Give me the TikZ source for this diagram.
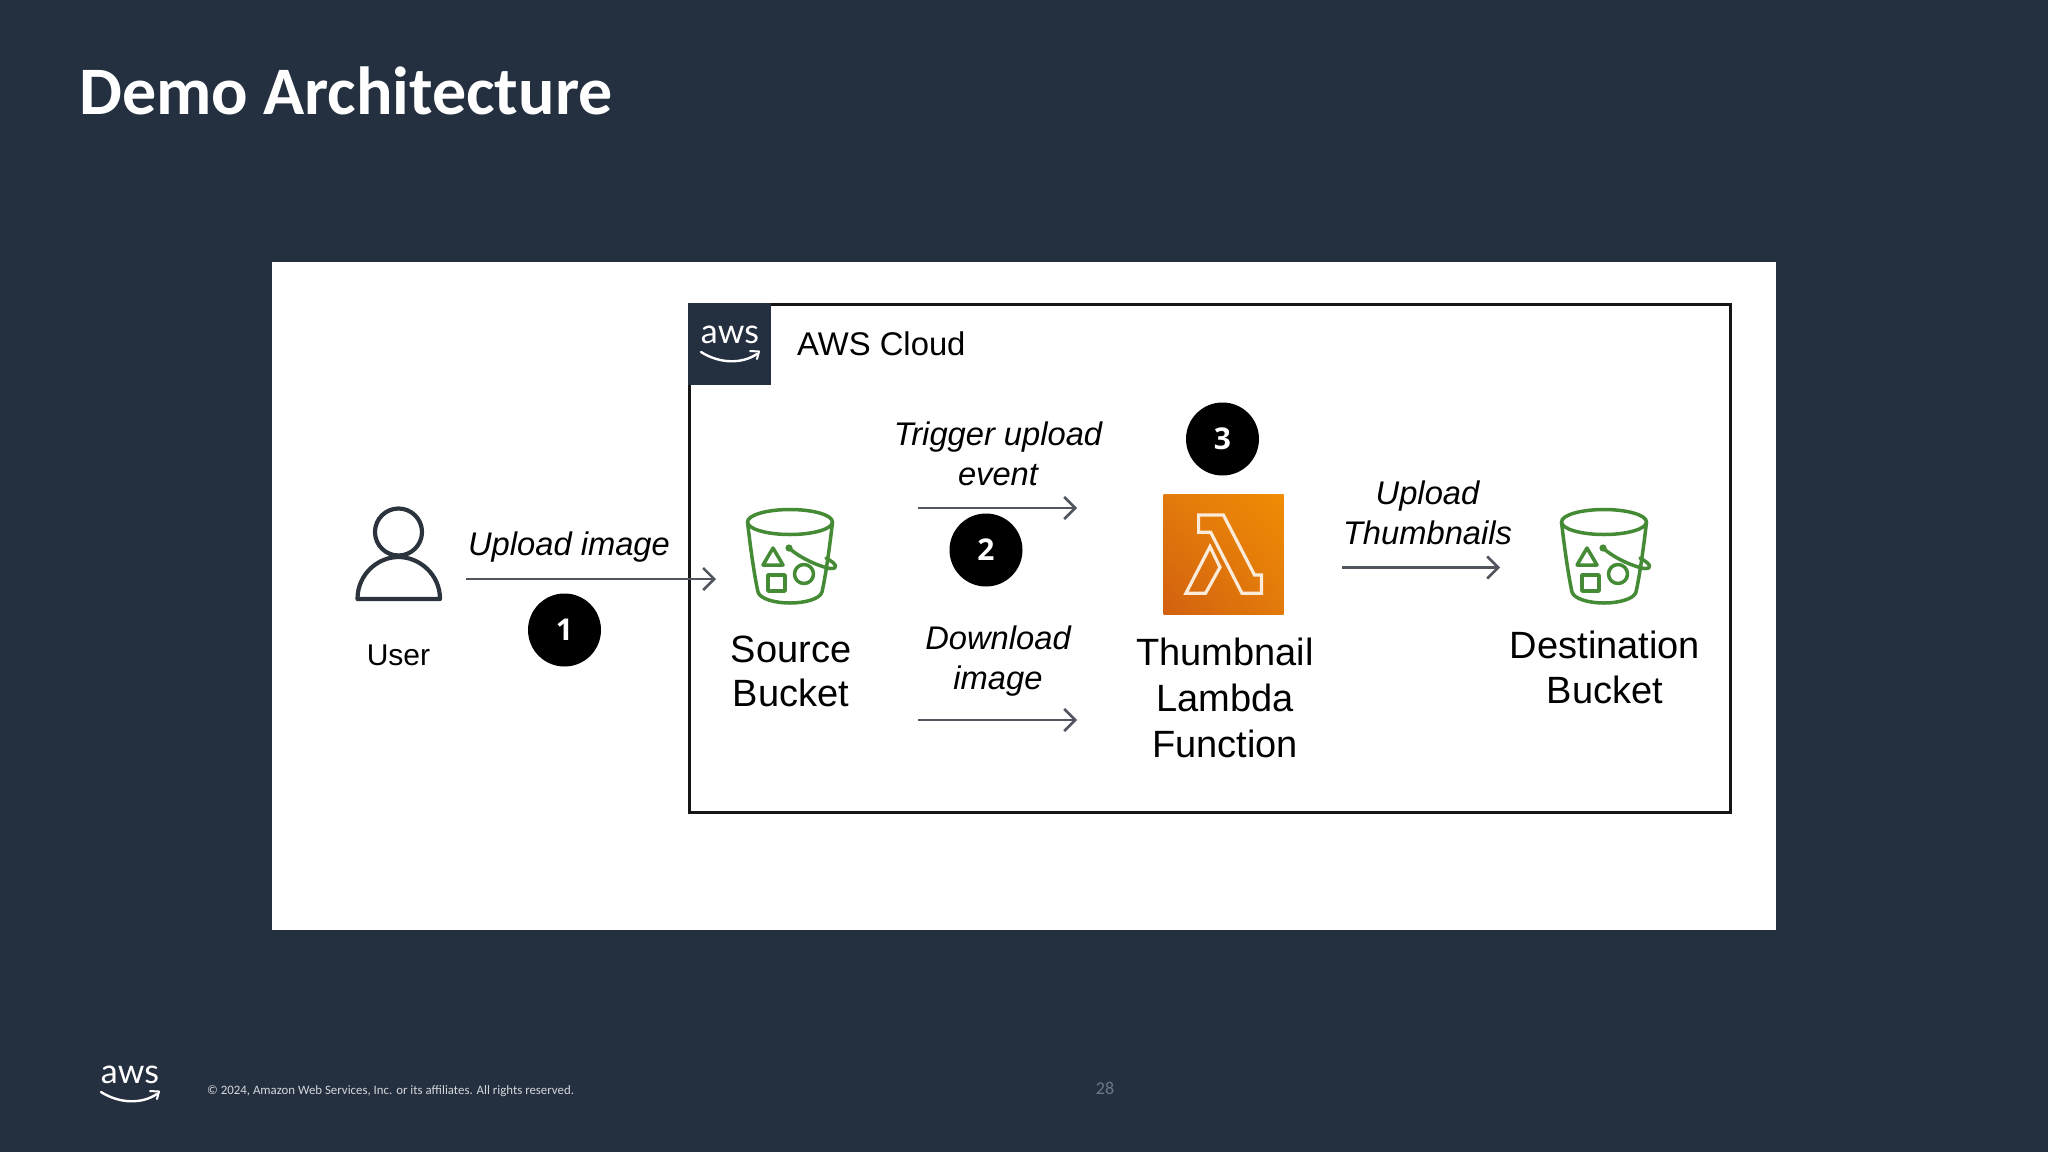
\documentclass[tikz,border=0pt]{standalone}
\usepackage{fontspec}
\setmainfont{Liberation Sans}
\newfontfamily\carlito{Carlito}
\newfontfamily\opensans{Open Sans}
\newfontfamily\logofont{Lato}
\usetikzlibrary{arrows.meta,shadings}
\definecolor{slate}{HTML}{242F3F}
\definecolor{bucketgreen}{HTML}{458B36}
\definecolor{arrowgray}{HTML}{50555E}
\definecolor{usercol}{HTML}{2B333D}
\definecolor{boxline}{HTML}{151515}
\definecolor{footgray}{HTML}{D5D8DC}
\definecolor{pagegray}{HTML}{6E7885}
\definecolor{lamlow}{HTML}{D2600F}
\definecolor{lammid}{HTML}{E27A0C}
\definecolor{lamhigh}{HTML}{F08C04}
\definecolor{lamline}{HTML}{FBEBD8}
\newcommand{\fs}[2]{\fontsize{#1}{#2}\selectfont}
\tikzset{
  x=1pt,y=-1pt,
  flow/.style={draw=arrowgray,line width=2.6pt,-{Straight Barb[length=11pt,width=22pt,line width=2.6pt]}},
  txt/.style={inner sep=0pt,anchor=base,align=center,text=black},
  caption/.style={txt,font=\fs{30}{36}},
  big/.style={txt,font=\fs{38}{44.5}},
  bigger/.style={txt,font=\fs{38}{46}},
  note/.style={txt,font=\fs{32.7}{40}\itshape},
  badge/.style={circle,fill=black,inner sep=0pt,minimum size=73pt,text=white,font=\opensans\bfseries\fs{30}{30}},
  bucket/.pic={
    \begin{scope}[draw=bucketgreen,line width=3.5pt,line join=round,line cap=round]
      \draw (0,0) ellipse [x radius=42.5,y radius=12.5];
      \draw (-42.5,0) .. controls (-40,22) and (-36,52) .. (-32,70) .. controls (-30,77) and (-15,81) .. (0,81) .. controls (15,81) and (30,77) .. (32,70) .. controls (36,52) and (40,22) .. (42.5,0);
      \draw (-17,26) -- (-27,43) -- (-7,43) -- cycle;
      \draw (-22,53) rectangle (-5,69);
      \draw (14,52) circle [radius=9.5];
      \fill[bucketgreen] (-1,26) circle [radius=3.6];
      \draw (-1,26) .. controls (10,36) and (28,44) .. (40,46.5) .. controls (49,47) and (47,42) .. (36,36);
    \end{scope}
  },
  awslogo/.pic={
    \node[inner sep=0pt,anchor=base,text=white,font=\logofont\fs{34}{34}] at (0,0) {aws};
    \draw[white,line width=2.4pt,line cap=round] (-29,9) .. controls (-10,21) and (12,21) .. (27,11);
    \draw[white,line width=2pt,line cap=round,line join=round] (20,8) -- (29,8.5) -- (27,16);
  }
}
\begin{document}
\begin{tikzpicture}
\useasboundingbox (0,0) rectangle (2048,1152);
\fill[slate] (0,0) rectangle (2048,1152);
\node[inner sep=0pt,anchor=base west,text=white,font=\carlito\bfseries\fs{68}{68}] (title) at (79,114) {Demo Architecture};
\fill[white] (271.5,262) rectangle (1776,930);
\node[draw=boxline,line width=3pt,inner sep=0pt,minimum width=1041pt,minimum height=508pt,anchor=north west] (cloud) at (688,303) {};
\fill[slate] (688,303) rectangle (771,385);
\pic at (730,343) {awslogo};
\node[txt,anchor=base west,font=\fs{32.8}{36}] (cloudlabel) at (797,355) {AWS Cloud};

% user
\draw[usercol,line width=4.2pt] (398.5,532) circle [radius=23.5];
\draw[usercol,line width=4.2pt,line join=round] (357.5,599) .. controls (357.5,574) and (378,557) .. (398.5,557) .. controls (419,557) and (440,574) .. (440,599) -- cycle;
\node[caption] (user) at (398.5,665) {User};

% buckets
\pic at (790,522) {bucket};
\pic at (1604,522) {bucket};
\node[big] (source) at (791,706.5) {Source\\Bucket};
\node[big] (dest) at (1605,703) {Destination\\Bucket};

% lambda
\path[lower left=lamlow,upper right=lamhigh,upper left=lammid,lower right=lammid,shade] (1163.5,494) rectangle (1283.5,614);
\draw[lamline,line width=3.2pt,line join=miter] (1198.6,515) -- (1223.4,515) -- (1254.5,575) -- (1261.4,575) -- (1261.4,593.3) -- (1242,593.3) -- (1210.7,532.3) -- (1198.6,532.3) -- cycle;
\draw[lamline,line width=3.2pt,line join=miter] (1210,546.7) -- (1220,567.3) -- (1205.5,593.3) -- (1185.9,593.3) -- cycle;
\node[bigger] (lambda) at (1225,757) {Thumbnail\\Lambda\\Function};

% flows
\coordinate (a1) at (466,579); \coordinate (b1) at (716,579);
\coordinate (a2) at (918,508); \coordinate (b2) at (1077,508);
\coordinate (a3) at (918,720); \coordinate (b3) at (1077,720);
\coordinate (a4) at (1342,567.5); \coordinate (b4) at (1500,567.5);
\draw[flow] (a1) -- (b1);
\draw[flow] (a2) -- (b2);
\draw[flow] (a3) -- (b3);
\draw[flow] (a4) -- (b4);
\node[note] (n1) at (569,555) {Upload image};
\node[note] (n2) at (998,485) {Trigger upload\\event};
\node[note] (n3) at (998,689.5) {Download\\image};
\node[note] (n4) at (1427.5,544) {Upload\\Thumbnails};
\node[badge] (c1) at (564.5,630) {1};
\node[badge] (c2) at (986,550) {2};
\node[badge] (c3) at (1222.5,439) {3};

% footer
\pic at (130,1083) {awslogo};
\node[inner sep=0pt,anchor=base west,text=footgray,font=\carlito\fs{12.85}{14}] (copy) at (207,1094) {© 2024, Amazon Web Services, Inc. or its affiliates. All rights reserved.};
\node[inner sep=0pt,anchor=base,text=pagegray,font=\carlito\fs{18}{18}] (page) at (1105,1094) {28};
\end{tikzpicture}
\end{document}
